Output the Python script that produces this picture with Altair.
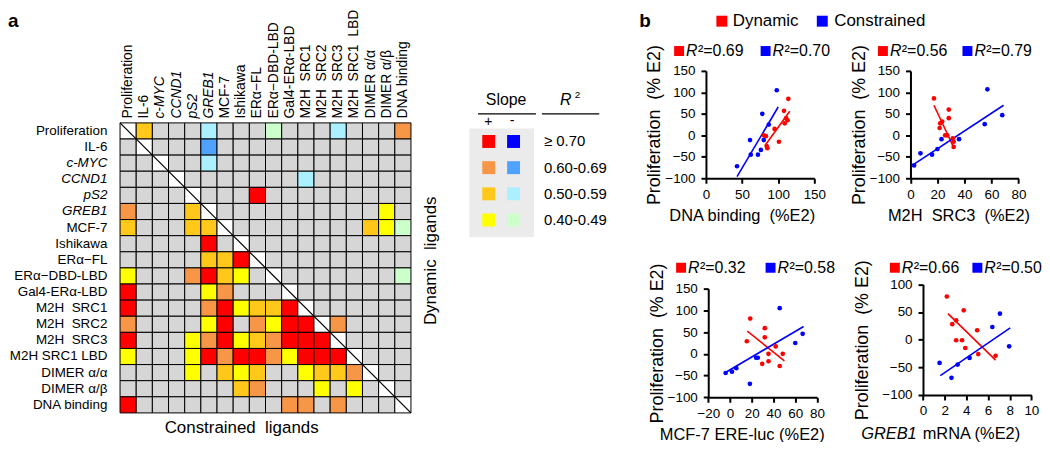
import altair as alt
import pandas as pd

W, H = 1040, 434
FONT = "Liberation Sans"
SP2 = "\u00a0\u00a0"

# ---------------- panel a : heat-map data ----------------
labels = ["Proliferation", "IL-6", "c-MYC", "CCND1", "pS2", "GREB1", "MCF-7", "Ishikawa",
          "ERα−FL", "ERα−DBD-LBD", "Gal4-ERα-LBD", "M2H SRC1", "M2H SRC2", "M2H SRC3",
          "M2H SRC1 LBD", "DIMER α/α", "DIMER α/β", "DNA binding"]
italic_labels = ["c-MYC", "CCND1", "pS2", "GREB1"]
# R/O/G/Y : positive slope (>=.70, .60-.69, .50-.59, .40-.49)
# B/M/C/L : negative slope (same classes); "." not significant; "D" diagonal
grid_codes = [
    "DG...C...L...C...O",
    ".D...M............",
    "..D..C............",
    "...D.......C......",
    "....D...R.........",
    "O...GD..........Y.",
    "G...GGD........GYL",
    ".....R.D..........",
    ".....GGRD.........",
    "Y...ORGY.D.......L",
    "R....YO...D.......",
    "R....ORYGGRD......",
    "O....YR.OYRRDO....",
    "R...YORYGORRRD....",
    "Y...YRORROYRRRD...",
    "....Y.GYG..YGGOD..",
    ".......GO...Y.Y.D.",
    "R.........OO.O...D",
]
code_colors = {"R": "#FF0000", "O": "#F79646", "G": "#FFC81A", "Y": "#FFFF00",
               "B": "#0000FF", "M": "#4FA3FF", "C": "#AAF0FF", "L": "#CCFFCC",
               ".": "#D6D6D6", "D": "#FFFFFF"}
legend_pos = ["R", "O", "G", "Y"]
legend_neg = ["B", "M", "C", "L"]
legend_text = ["≥ 0.70", "0.60-0.69", "0.50-0.59", "0.40-0.49"]

# ---------------- panel b : scatter data ----------------
r2_dyn = ["0.69", "0.56", "0.32", "0.66"]
r2_con = ["0.70", "0.79", "0.58", "0.50"]

p1_dyn_x = [114, 108, 111, 113, 109, 95, 80, 83, 101, 84, 85]
p1_dyn_y = [85, 57, 40, 35, 28, 15, 0, -2, -15, -25, -30]
p1_con_x = [98, 78, 87, 61, 80, 76, 62, 72, 43]
p1_con_y = [105, 50, 25, -11, -11, -34, -45, -45, -72]
p1_dyn_line_x = [82, 116]
p1_dyn_line_y = [-23, 56]
p1_con_line_x = [43, 100]
p1_con_line_y = [-96, 66]

p2_dyn_x = [17.4, 28.4, 28.4, 23.5, 22, 21.6, 25.7, 27.2, 31.4, 32, 32]
p2_dyn_y = [86, 60, 40, 32, 28, 17, 0, 0, -7, -15, -27]
p2_con_x = [2.7, 7.4, 16, 20, 23, 36, 55, 57, 68]
p2_con_y = [-70, -42, -45, -32, -9, -9, 26, 107, 47]
p2_dyn_line_x = [17.4, 32]
p2_dyn_line_y = [70, -28]
p2_con_line_x = [0.7, 69]
p2_con_line_y = [-71, 70]

p3_dyn_x = [18.6, 32, 32, 15.5, 42, 48.5, 35.4, 35.4, 29.6, 45.7]
p3_dyn_y = [81, 59, 38, 29, 17, 0, 0, -17, -23, -28]
p3_con_x = [45.7, 66.8, 60, 25.6, 24, 5.8, 1.8, -4, 18.3]
p3_con_y = [105, 46, 25, -9, -9, -33, -41, -44, -69]
p3_dyn_line_x = [15.9, 50]
p3_dyn_line_y = [52, -16]
p3_con_line_x = [-4.9, 67.7]
p3_con_line_y = [-44, 63]

p4_dyn_x = [2.2, 3.06, 2.7, 3.76, 5.0, 3.06, 3.6, 3.9, 5.1, 6.7]
p4_dyn_y = [78, 35, 28, 53, 17, -1, -1, -15, -26, -29]
p4_con_x = [1.53, 2.63, 3.2, 4.3, 6.4, 7.1, 7.95]
p4_con_y = [-42, -69, -45, -33, 23, 47, -12]
p4_dyn_line_x = [2.3, 6.7]
p4_dyn_line_y = [47, -37]
p4_con_line_x = [1.6, 8.05]
p4_con_line_y = [-65, 21.5]

RED, BLUE = "#FF0000", "#0000FF"
group_scale = alt.Scale(domain=["Dynamic", "Constrained"], range=[RED, BLUE])

layers = []


def text(t, x, y, size=15, **kw):
    kw.setdefault("color", "black")
    return alt.Chart(pd.DataFrame({"t": [t]})).mark_text(font=FONT, fontSize=size, **kw).encode(
        x=alt.value(x), y=alt.value(y), text="t:N")


def square(x, y, color, size=100):
    return alt.Chart(pd.DataFrame({"t": [0]})).mark_square(size=size, color=color, opacity=1).encode(
        x=alt.value(x), y=alt.value(y))


# ---------------- heat map ----------------
hx = alt.Scale(domain=[0, 18], range=[112.7, 405.3], nice=False, zero=False)
hy = alt.Scale(domain=[0, 18], range=[114.3, 406.0], nice=False, zero=False)

cells = []
for r, row in enumerate(grid_codes):
    row = row[:18].ljust(18, ".")
    for c, code in enumerate(row):
        cells.append({"c0": c, "c1": c + 1, "r0": r, "r1": r + 1, "color": code_colors[code]})
cells_df = pd.DataFrame(cells)

layers.append(alt.Chart(cells_df).mark_rect(stroke="black", strokeWidth=1).encode(
    x=alt.X("c0:Q", scale=hx, axis=None), x2="c1:Q",
    y=alt.Y("r0:Q", scale=hy, axis=None), y2="r1:Q",
    color=alt.Color("color:N", scale=None)))

layers.append(alt.Chart(pd.DataFrame({"a": [0], "b": [18]})).mark_rule(color="black", strokeWidth=1.2).encode(
    x=alt.X("a:Q", scale=hx, axis=None), x2="b:Q",
    y=alt.Y("a:Q", scale=hy, axis=None), y2="b:Q"))


def spaced(name):
    if name.startswith("M2H "):
        return name.replace(" ", SP2)
    return name


lab_df = pd.DataFrame({
    "row_name": [n if n == "M2H SRC1 LBD" else spaced(n) for n in labels],
    "col_name": [spaced(n) for n in labels],
    "pos": [i + 0.5 for i in range(len(labels))],
    "it": [n in italic_labels for n in labels]})
for italic in (False, True):
    flt = "datum.it" if italic else "!datum.it"
    style = "italic" if italic else "normal"
    layers.append(alt.Chart(lab_df).transform_filter(flt).mark_text(
        font=FONT, fontSize=13.5, fontStyle=style, align="right", baseline="middle", color="black").encode(
        x=alt.value(100), y=alt.Y("pos:Q", scale=hy, axis=None), text="row_name:N"))
    layers.append(alt.Chart(lab_df).transform_filter(flt).mark_text(
        font=FONT, fontSize=14, fontStyle=style, align="left", baseline="middle", angle=270, color="black").encode(
        x=alt.X("pos:Q", scale=hx, axis=None), y=alt.value(110), text="col_name:N"))

layers.append(text("Constrained" + SP2 + "ligands", 235, 421, size=17, align="center", baseline="middle"))
layers.append(text("Dynamic" + SP2 + "ligands", 425, 253, size=17, align="center", baseline="middle", angle=270))
layers.append(text("a", 0, 18, size=19, fontWeight="bold", align="left", baseline="alphabetic"))

# ---------------- heat-map legend ----------------
layers.append(alt.Chart(pd.DataFrame({"t": [0]})).mark_rect(color="#EBEBEB").encode(
    x=alt.value(464), x2=alt.value(529), y=alt.value(120), y2=alt.value(229)))
lx = alt.Scale(domain=[0, 1], range=[483.5, 508.5], nice=False, zero=False)
ly = alt.Scale(domain=[0, 3], range=[133, 212], nice=False, zero=False)
leg_rows = []
for i in range(4):
    leg_rows.append({"s": 0, "l": i, "color": code_colors[legend_pos[i]], "txt": legend_text[i]})
    leg_rows.append({"s": 1, "l": i, "color": code_colors[legend_neg[i]], "txt": legend_text[i]})
leg_df = pd.DataFrame(leg_rows)
layers.append(alt.Chart(leg_df).mark_square(size=169, opacity=1).encode(
    x=alt.X("s:Q", scale=lx, axis=None), y=alt.Y("l:Q", scale=ly, axis=None),
    color=alt.Color("color:N", scale=None)))
layers.append(alt.Chart(leg_df).transform_filter("datum.s == 0").mark_text(
    font=FONT, fontSize=15, align="left", baseline="middle", color="black").encode(
    x=alt.value(539), y=alt.Y("l:Q", scale=ly, axis=None), text="txt:N"))
layers.append(text("Slope", 501, 96, size=16, align="center", baseline="alphabetic"))
layers.append(text("R", 561, 96, size=16, fontStyle="italic", align="center", baseline="alphabetic"))
layers.append(text("2", 570, 89, size=10, align="left", baseline="alphabetic"))
layers.append(alt.Chart(pd.DataFrame({"t": [0]})).mark_rule(color="black", strokeWidth=1.3).encode(
    x=alt.value(472.7), x2=alt.value(531), y=alt.value(105.3)))
layers.append(alt.Chart(pd.DataFrame({"t": [0]})).mark_rule(color="black", strokeWidth=1.3).encode(
    x=alt.value(537), x2=alt.value(594.7), y=alt.value(105.3)))
layers.append(text("+", 483, 113, size=14, align="center", baseline="middle"))
layers.append(text("-", 507, 112, size=14, align="center", baseline="middle"))

# ---------------- scatter panels ----------------
layers.append(text("b", 635, 18, size=19, fontWeight="bold", align="left", baseline="alphabetic"))
layers.append(square(718, 12, RED, 121))
layers.append(text("Dynamic", 729, 12, size=17, align="left", baseline="middle"))
layers.append(square(819, 12, BLUE, 121))
layers.append(text("Constrained", 831, 12, size=17, align="left", baseline="middle"))

YTITLE = "Proliferation" + SP2 + "(% E2)"


def scatter(xdom, xr, ydom, yr, xticks, yticks, xtitle, title_x, ytitle_pad,
            dx, dy, cx, cy, dlx, dly, clx, cly):
    xs = alt.Scale(domain=xdom, range=xr, nice=False, zero=False)
    ys = alt.Scale(domain=ydom, range=yr, nice=False, zero=False)
    pts = pd.DataFrame({"x": dx + cx, "y": dy + cy,
                        "g": ["Dynamic"] * len(dx) + ["Constrained"] * len(cx)})
    lines = pd.DataFrame({"x": dlx + clx, "y": dly + cly,
                          "g": ["Dynamic"] * len(dlx) + ["Constrained"] * len(clx)})
    xaxis_kw = dict(orient="bottom", offset=yr[0] - H, values=xticks, labelPadding=4,
                    labelFlush=False, labelOverlap=False, labelFontSize=13.5)
    if xtitle:
        xaxis_kw.update(title=xtitle, titleFontSize=16.5, titlePadding=7, titleX=title_x)
    else:
        xaxis_kw.update(title=None)
    xaxis = alt.Axis(**xaxis_kw)
    yaxis = alt.Axis(orient="left", offset=-xr[0], values=yticks, labelPadding=6,
                     labelFlush=False, labelOverlap=False, labelFontSize=13.5,
                     title=YTITLE, titleFontSize=18, titlePadding=ytitle_pad)
    out = [
        alt.Chart(lines).mark_line(strokeWidth=1.6).encode(
            x=alt.X("x:Q", scale=xs, axis=None), y=alt.Y("y:Q", scale=ys, axis=None),
            color=alt.Color("g:N", scale=group_scale, legend=None), detail="g:N"),
        alt.Chart(pts).mark_circle(size=22, opacity=1).encode(
            x=alt.X("x:Q", scale=xs, axis=xaxis), y=alt.Y("y:Q", scale=ys, axis=yaxis),
            color=alt.Color("g:N", scale=group_scale, legend=None)),
    ]
    return out


def r2_legend(xr_, xb_, y, vr, vb):
    out = []
    for xs_, col, v in ((xr_, RED, vr), (xb_, BLUE, vb)):
        out.append(square(xs_, y, col, 100))
        out.append(text("R", xs_ + 7, y, size=16, fontStyle="italic", align="left", baseline="middle"))
        out.append(text("²=" + v, xs_ + 19, y, size=16, align="left", baseline="middle"))
    return out


layers += scatter([0, 150], [702, 811], [-100, 150], [170, 62], [0, 50, 100, 150],
                  [-100, -50, 0, 50, 100, 150], "DNA binding" + SP2 + "(%E2)", 738, 1,
                  p1_dyn_x, p1_dyn_y, p1_con_x, p1_con_y,
                  p1_dyn_line_x, p1_dyn_line_y, p1_con_line_x, p1_con_line_y)
layers += r2_legend(675, 762, 42, r2_dyn[0], r2_con[0])

layers += scatter([0, 80], [907.7, 1016.3], [-100, 150], [170, 62], [0, 20, 40, 60, 80],
                  [-100, -50, 0, 50, 100, 150], "M2H" + SP2 + "SRC3" + SP2 + "(%E2)", 956, 1,
                  p2_dyn_x, p2_dyn_y, p2_con_x, p2_con_y,
                  p2_dyn_line_x, p2_dyn_line_y, p2_con_line_x, p2_con_line_y)
layers += r2_legend(880, 965, 42, r2_dyn[1], r2_con[1])

layers += scatter([-20, 80], [704.3, 813.7], [-100, 150], [390.3, 281], [-20, 0, 20, 40, 60, 80],
                  [-100, -50, 0, 50, 100, 150], "MCF-7 ERE-luc (%E2)", 738, 1,
                  p3_dyn_x, p3_dyn_y, p3_con_x, p3_con_y,
                  p3_dyn_line_x, p3_dyn_line_y, p3_con_line_x, p3_con_line_y)
layers += r2_legend(677, 767, 260, r2_dyn[2], r2_con[2])

layers += scatter([0, 10], [920.3, 1029.3], [-100, 100], [388, 276.7], [0, 2, 4, 6, 8, 10],
                  [-100, -50, 0, 50, 100], None, None, 10,
                  p4_dyn_x, p4_dyn_y, p4_con_x, p4_con_y,
                  p4_dyn_line_x, p4_dyn_line_y, p4_con_line_x, p4_con_line_y)
layers += r2_legend(892, 975, 260, r2_dyn[3], r2_con[3])
layers.append(text("GREB1", 914, 427, size=16.5, fontStyle="italic", align="right", baseline="middle"))
layers.append(text("mRNA (%E2)", 920, 427, size=16.5, align="left", baseline="middle"))

chart = alt.layer(*layers).resolve_scale(
    x="independent", y="independent", color="independent"
).properties(
    width=W, height=H, autosize=alt.AutoSizeParams(type="none"), padding=0
).configure_view(strokeWidth=0).configure_axis(
    grid=False, domainColor="black", domainWidth=2, tickColor="black", tickWidth=2,
    tickSize=5, labelColor="black", labelFont=FONT, labelFontSize=13,
    titleColor="black", titleFont=FONT, titleFontWeight="normal"
)

chart.save("out.html", embed_options={"renderer": "svg", "actions": False})
